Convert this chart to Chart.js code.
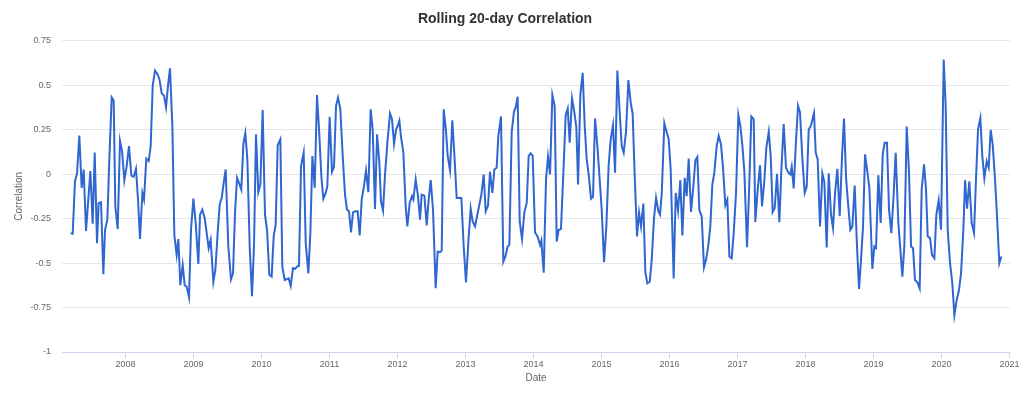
<!DOCTYPE html>
<html>
<head>
<meta charset="utf-8">
<script src="https://cdn.jsdelivr.net/npm/chart.js@4.4.1/dist/chart.umd.min.js"></script>
<style>
html,body{margin:0;padding:0;background:#ffffff;}
canvas{display:block;}
</style>
</head>
<body>
<canvas id="chart" width="1024" height="397"></canvas>
<script>
// Decimal-year dates of each observation
const dates = [
2007.194,2007.223,2007.257,2007.287,2007.321,2007.355,2007.385,2007.419,2007.483,2007.517,
2007.547,2007.581,2007.605,2007.640,2007.674,2007.699,2007.733,2007.762,2007.797,2007.826,
2007.850,2007.885,2007.919,2007.949,2007.983,2008.017,2008.051,2008.086,2008.120,2008.154,
2008.184,2008.213,2008.248,2008.272,2008.306,2008.341,2008.370,2008.400,2008.434,2008.468,
2008.498,2008.532,2008.566,2008.596,2008.625,2008.654,2008.689,2008.718,2008.752,2008.777,
2008.806,2008.841,2008.870,2008.900,2008.934,2008.963,2008.998,2009.032,2009.071,2009.096,
2009.130,2009.164,2009.194,2009.223,2009.252,2009.292,2009.321,2009.355,2009.385,2009.414,
2009.444,2009.473,2009.512,2009.551,2009.581,2009.610,2009.640,2009.669,2009.703,2009.733,
2009.762,2009.792,2009.826,2009.860,2009.890,2009.919,2009.953,2009.983,2010.017,2010.051,
2010.081,2010.115,2010.149,2010.179,2010.208,2010.238,2010.277,2010.306,2010.341,2010.370,
2010.400,2010.429,2010.463,2010.493,2010.522,2010.551,
2010.581,2010.620,2010.650,2010.689,2010.718,2010.748,2010.782,2010.816,2010.846,2010.880,
2010.909,2010.944,2010.968,2011.002,2011.037,2011.066,2011.096,2011.125,2011.159,2011.194,
2011.228,2011.257,2011.287,2011.316,2011.346,2011.380,2011.414,2011.444,2011.473,2011.507,
2011.537,2011.571,2011.605,2011.635,2011.669,2011.699,2011.733,2011.757,2011.787,2011.816,
2011.855,2011.890,2011.919,2011.949,2011.978,2012.007,2012.027,2012.051,2012.086,2012.120,
2012.145,2012.179,2012.213,2012.233,2012.267,2012.301,2012.331,
2012.355,2012.395,2012.429,2012.458,2012.488,2012.522,2012.561,2012.591,2012.625,2012.650,
2012.679,2012.713,2012.738,2012.772,2012.806,2012.836,2012.870,2012.904,2012.939,2012.973,
2013.007,2013.042,2013.076,2013.105,2013.140,2013.169,2013.199,2013.233,2013.267,2013.297,
2013.331,2013.360,2013.395,2013.424,2013.458,2013.483,2013.522,2013.556,2013.586,2013.620,
2013.645,2013.679,2013.713,2013.738,2013.767,2013.797,2013.831,2013.865,2013.900,2013.929,
2013.958,2013.988,2014.022,2014.056,2014.096,
2014.115,2014.150,2014.184,2014.213,2014.243,2014.277,2014.311,2014.341,2014.370,2014.404,
2014.439,2014.473,2014.503,2014.532,2014.566,2014.601,2014.630,2014.655,2014.689,2014.723,
2014.753,2014.782,2014.811,2014.846,2014.875,2014.905,2014.939,2014.973,2015.003,2015.037,
2015.071,2015.105,2015.135,2015.169,2015.199,2015.233,2015.262,2015.297,2015.326,2015.360,
2015.395,2015.429,2015.458,2015.488,2015.522,2015.552,2015.581,2015.615,2015.645,2015.674,
2015.709,2015.738,2015.772,2015.802,2015.836,2015.860,
2015.885,2015.924,2015.953,2015.988,2016.017,2016.061,2016.091,2016.125,2016.159,2016.189,
2016.223,2016.252,2016.282,2016.316,2016.351,2016.380,2016.409,2016.439,2016.473,2016.507,
2016.537,2016.571,2016.600,2016.630,2016.659,2016.694,2016.723,2016.757,2016.787,2016.821,
2016.850,2016.880,2016.914,2016.944,2016.978,2017.012,2017.042,2017.071,2017.100,2017.140,
2017.169,2017.203,2017.238,2017.262,2017.297,2017.331,2017.360,2017.395,2017.424,2017.459,
2017.488,2017.517,2017.547,2017.581,2017.615,
2017.645,2017.679,2017.713,2017.748,2017.777,2017.797,2017.826,2017.860,2017.890,2017.919,
2017.954,2017.988,2018.017,2018.047,2018.081,2018.115,2018.125,2018.150,2018.179,2018.213,
2018.248,2018.277,2018.311,2018.341,2018.375,2018.404,2018.434,2018.468,2018.503,2018.537,
2018.566,2018.596,2018.625,2018.659,2018.689,2018.723,2018.757,2018.787,2018.816,2018.846,
2018.875,2018.905,2018.939,2018.983,2019.012,2019.037,2019.071,2019.105,2019.135,2019.164,
2019.198,2019.228,2019.262,2019.292,2019.326,
2019.365,2019.395,2019.424,2019.453,2019.488,2019.522,2019.552,2019.581,2019.610,2019.645,
2019.679,2019.708,2019.743,2019.772,2019.797,2019.831,2019.860,2019.895,2019.924,2019.958,
2019.993,2020.032,2020.061,2020.091,2020.125,2020.159,2020.189,2020.223,2020.257,2020.287,
2020.321,2020.346,2020.375,2020.409,2020.444,2020.478,2020.503,2020.537,2020.571,2020.600,
2020.630,2020.664,2020.694,2020.723,2020.752,2020.787,2020.821,2020.850,2020.880
];

// Rolling 20-day correlation values
const correlation = [
-0.333,-0.335,-0.040,0.004,0.217,-0.077,0.026,-0.320,0.017,-0.279,
0.121,-0.388,-0.162,-0.158,-0.563,-0.313,-0.256,0.083,0.431,0.413,
-0.181,-0.309,0.187,0.130,-0.034,0.045,0.158,-0.008,-0.015,0.030,
-0.143,-0.365,-0.106,-0.143,0.087,0.073,0.158,0.497,0.582,0.563,
0.535,0.454,0.441,0.375,0.497,0.595,0.271,-0.341,-0.454,-0.365,
-0.624,-0.511,-0.624,-0.633,-0.693,-0.313,-0.138,-0.275,-0.505,-0.228,
-0.200,-0.247,-0.332,-0.416,-0.369,-0.605,-0.539,-0.332,-0.171,-0.134,
-0.049,0.026,-0.407,-0.592,-0.558,-0.219,-0.021,-0.049,-0.087,0.168,
0.230,0.083,-0.407,-0.686,-0.398,0.224,-0.102,-0.058,0.360,-0.228,
-0.313,-0.567,-0.576,-0.350,-0.284,0.162,0.196,-0.520,-0.595,-0.590,
-0.586,-0.629,-0.529,-0.533,-0.520,-0.516,
0.045,0.121,-0.388,-0.558,-0.332,0.102,-0.077,0.445,0.252,-0.011,
-0.139,-0.106,-0.068,0.322,0.013,0.041,0.384,0.430,0.365,0.102,
-0.115,-0.200,-0.209,-0.328,-0.215,-0.209,-0.209,-0.345,-0.143,-0.068,
0.019,-0.102,0.365,0.252,-0.196,0.224,0.064,-0.153,-0.205,-0.002,
0.196,0.341,0.309,0.171,0.249,0.275,0.300,0.211,0.121,-0.181,
-0.294,-0.162,-0.124,-0.143,-0.030,-0.124,-0.256,
-0.115,-0.121,-0.288,-0.143,-0.034,-0.200,-0.642,-0.435,-0.439,-0.430,
0.365,0.243,0.102,0.021,0.303,0.111,-0.134,-0.134,-0.134,-0.407,
-0.609,-0.379,-0.194,-0.266,-0.294,-0.237,-0.181,-0.115,-0.002,-0.209,
-0.177,0.013,-0.106,0.026,0.036,0.215,0.324,-0.492,-0.463,-0.407,
-0.398,0.237,0.352,0.375,0.435,-0.266,-0.365,-0.215,-0.162,0.102,
0.117,0.102,-0.328,-0.347,-0.398,
-0.373,-0.554,-0.030,0.098,-0.002,0.445,0.384,-0.379,-0.313,-0.309,
0.008,0.332,0.369,0.177,0.426,0.347,0.262,-0.058,0.450,0.569,
0.271,0.083,-0.002,-0.139,-0.128,0.313,0.158,-0.030,-0.200,-0.495,
-0.294,0.049,0.196,0.275,0.008,0.582,0.384,0.158,0.121,0.237,
0.529,0.403,0.337,-0.011,-0.350,-0.215,-0.294,-0.166,-0.554,-0.614,
-0.605,-0.482,-0.247,-0.134,-0.209,-0.228,
-0.115,0.286,0.243,0.196,0.026,-0.586,-0.106,-0.205,-0.034,-0.345,
-0.021,-0.124,0.087,-0.213,-0.068,0.077,0.096,-0.203,-0.237,-0.524,
-0.482,-0.401,-0.294,-0.058,0.008,0.158,0.215,0.168,0.036,-0.175,
-0.143,-0.463,-0.473,-0.332,-0.106,0.332,0.271,0.162,0.017,-0.411,
-0.106,0.324,0.309,-0.269,-0.087,0.049,-0.181,-0.034,0.149,0.237,
0.102,-0.213,-0.190,0.002,-0.271,
0.026,0.281,0.036,0.008,-0.002,0.041,-0.081,0.187,0.384,0.347,
0.083,-0.106,-0.073,0.249,0.275,0.328,0.343,0.121,0.083,-0.294,
0.004,-0.045,-0.413,0.004,-0.228,-0.303,-0.106,0.030,-0.237,0.102,
0.313,-0.021,-0.162,-0.313,-0.294,-0.064,-0.407,-0.646,-0.482,-0.294,
0.111,0.026,-0.077,-0.533,-0.407,-0.416,-0.006,-0.275,0.111,0.177,
0.177,-0.200,-0.332,-0.143,0.120,
-0.275,-0.426,-0.576,-0.407,0.267,0.008,-0.407,-0.416,-0.595,-0.608,
-0.642,-0.087,0.055,-0.087,-0.350,-0.360,-0.454,-0.473,-0.228,-0.147,
-0.313,0.644,0.384,-0.313,-0.501,-0.614,-0.793,-0.708,-0.652,-0.557,
-0.313,-0.034,-0.194,-0.040,-0.275,-0.331,-0.068,0.252,0.315,0.102,
-0.024,0.073,0.036,0.249,0.168,-0.030,-0.275,-0.501,-0.463
];

const xTickYears = [2008,2009,2010,2011,2012,2013,2014,2015,2016,2017,2018,2019,2020,2021];
const yTickValues = [-1,-0.75,-0.5,-0.25,0,0.25,0.5,0.75];

const FONT = '"Liberation Sans", Arial, Helvetica, sans-serif';
const points = dates.map((d, i) => ({ x: d, y: correlation[i] }));

new Chart(document.getElementById('chart').getContext('2d'), {
  type: 'line',
  data: {
    datasets: [{
      data: points,
      borderColor: '#2f66d0',
      borderWidth: 2,
      pointRadius: 0,
      pointHoverRadius: 0,
      tension: 0,
      fill: false
    }]
  },
  options: {
    responsive: false,
    animation: false,
    devicePixelRatio: 1,
    layout: { padding: { left: 0, right: 14, top: 0, bottom: 0 } },
    plugins: {
      legend: { display: false },
      tooltip: { enabled: false },
      title: {
        display: true,
        text: 'Rolling 20-day Correlation',
        color: '#333333',
        font: { family: FONT, size: 14, weight: 'bold' },
        padding: { top: 10.6, bottom: 13.3 }
      }
    },
    scales: {
      x: {
        type: 'linear',
        min: 2007.066,
        max: 2021.007,
        afterBuildTicks: s => { s.ticks = xTickYears.map(v => ({ value: v })); },
        afterFit: s => { s.height = 45; },
        grid: { display: true, drawOnChartArea: false, drawTicks: true, tickLength: 6, color: '#ccd6eb' },
        border: { display: true, color: '#ccd6eb', width: 1 },
        ticks: {
          color: '#666666', font: { family: FONT, size: 9 }, padding: 1,
          maxRotation: 0, autoSkip: false, callback: v => String(v)
        },
        title: {
          display: true, text: 'Date', color: '#666666',
          font: { family: FONT, size: 10 }, padding: { top: 0, bottom: 13 }
        }
      },
      y: {
        min: -1,
        max: 0.75,
        afterBuildTicks: s => { s.ticks = yTickValues.map(v => ({ value: v })); },
        afterFit: s => { s.width = 62; },
        grid: { color: '#e6e6e6', drawTicks: false },
        border: { display: false },
        ticks: {
          color: '#666666', font: { family: FONT, size: 9 }, padding: 11,
          callback: v => String(Math.round(v * 100) / 100)
        },
        title: {
          display: true, text: 'Correlation', color: '#666666',
          font: { family: FONT, size: 10 }, padding: { top: 13, bottom: 0 }
        }
      }
    }
  }
});
</script>
</body>
</html>
